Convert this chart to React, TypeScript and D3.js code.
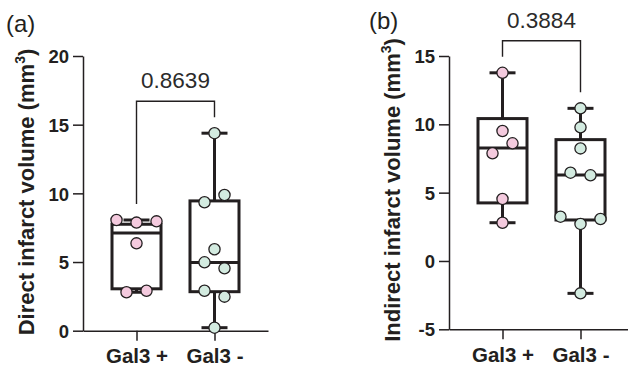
import React, { useEffect, useRef } from 'react';
import * as d3 from 'd3';

const categories = ['Gal3 +', 'Gal3 -'];

// (a) direct infarct volume, points in table order
const directGal3Pos = [8.06, 7.87, 7.96, 6.36, 2.8, 2.91];
const directGal3Neg = [14.38, 9.35, 9.88, 5.93, 4.98, 4.54, 2.91, 2.48, 0.22];
// box summaries: [min, q1, median, q3, max]
const directBoxes = [
    [2.8, 3.05, 7.12, 7.75, 8.06],
    [0.22, 2.84, 4.97, 9.45, 14.38],
];
const directTicks = [0, 5, 10, 15, 20];
const directP = '0.8639';

// (b) indirect infarct volume
const indirectGal3Pos = [13.77, 9.51, 7.88, 8.61, 4.54, 2.8];
const indirectGal3Neg = [11.17, 9.78, 8.24, 6.46, 6.27, 3.24, 2.71, 3.07, -2.37];
const indirectBoxes = [
    [2.8, 4.25, 8.27, 10.42, 13.77],
    [-2.37, 3.0, 6.3, 8.88, 11.17],
];
const indirectTicks = [-5, 0, 5, 10, 15];
const indirectP = '0.3884';

const FONT = 'Liberation Sans, Arial, Helvetica, sans-serif';
const INK = '#231f20';
const FILLS = ['#f4cade', '#d3ebe0'];

const drawPanel = (svg, cfg) => {
    const y = d3.scaleLinear().domain(cfg.domain).range([cfg.bottom, 56]);
    const x = d3.scalePoint().domain(categories).range([cfg.left, cfg.left + 185]).padding(0.686);

    const g = svg.append('g');

    // y axis (plain hyphen for negatives, like the original)
    const ya = g.append('g')
        .attr('transform', `translate(${cfg.left},0)`)
        .call(d3.axisLeft(y).tickValues(cfg.ticks).tickFormat(d => String(d))
            .tickSize(10).tickSizeOuter(0).tickPadding(4));
    ya.select('.domain').attr('stroke', INK).attr('stroke-width', 1.5);
    ya.selectAll('.tick line').attr('stroke', INK).attr('stroke-width', 1.5);
    ya.selectAll('.tick text')
        .attr('font-family', FONT).attr('font-size', 18.5).attr('font-weight', 'bold')
        .attr('fill', INK).attr('dy', '0.36em');

    // x axis
    const xa = g.append('g')
        .attr('transform', `translate(0,${cfg.bottom})`)
        .call(d3.axisBottom(x).tickSize(10).tickSizeOuter(0).tickPadding(8));
    xa.select('.domain').attr('stroke', INK).attr('stroke-width', 1.5);
    xa.selectAll('.tick line').attr('stroke', INK).attr('stroke-width', 1.5);
    xa.selectAll('.tick text')
        .attr('font-family', FONT).attr('font-size', 20.5).attr('font-weight', 'bold')
        .attr('fill', INK);

    // boxes and whiskers
    cfg.boxes.forEach((b, i) => {
        const cx = x(categories[i]);
        const [mn, q1, med, q3, mx] = b;
        const bg = g.append('g').attr('stroke', INK).attr('stroke-width', 3).attr('fill', 'none');
        bg.append('line').attr('x1', cx).attr('x2', cx).attr('y1', y(mx)).attr('y2', y(q3));
        bg.append('line').attr('x1', cx).attr('x2', cx).attr('y1', y(q1)).attr('y2', y(mn));
        bg.append('line').attr('x1', cx - 13).attr('x2', cx + 13).attr('y1', y(mx)).attr('y2', y(mx));
        bg.append('line').attr('x1', cx - 13).attr('x2', cx + 13).attr('y1', y(mn)).attr('y2', y(mn));
        bg.append('rect')
            .attr('x', cx - 24.5).attr('width', 49)
            .attr('y', y(q3)).attr('height', y(q1) - y(q3));
        bg.append('line').attr('x1', cx - 24.5).attr('x2', cx + 24.5).attr('y1', y(med)).attr('y2', y(med));
    });

    // points, grouped into rows when they would overlap
    cfg.points.forEach((vals, i) => {
        const cx = x(categories[i]);
        const order = vals.map((v, k) => k).sort((a, b) => vals[b] - vals[a]);
        const rows = [];
        order.forEach(k => {
            const last = rows[rows.length - 1];
            if (last && y(vals[k]) - y(vals[last[last.length - 1]]) < 11) last.push(k);
            else rows.push([k]);
        });
        rows.forEach(row => {
            row.sort((a, b) => a - b);
            row.forEach((k, j) => {
                g.append('circle')
                    .attr('cx', cx + (j - (row.length - 1) / 2) * 20)
                    .attr('cy', y(vals[k]))
                    .attr('r', 5.6)
                    .attr('fill', FILLS[i])
                    .attr('stroke', INK)
                    .attr('stroke-width', 1.3);
            });
        });
    });

    // significance bracket
    const legs = cfg.boxes.map(b => y(b[4]) - 16);
    const top = Math.min(...legs) - 16;
    const x1 = x(categories[0]);
    const x2 = x(categories[1]);
    g.append('path')
        .attr('d', `M${x1},${legs[0]}V${top}H${x2}V${legs[1]}`)
        .attr('fill', 'none').attr('stroke', INK).attr('stroke-width', 1.4);
    g.append('text')
        .attr('x', (x1 + x2) / 2).attr('y', top - 13)
        .attr('text-anchor', 'middle')
        .attr('font-family', FONT).attr('font-size', 22.5).attr('fill', '#2b2b2b')
        .text(cfg.p);

    // y label
    const lab = g.append('text')
        .attr('transform', `translate(${cfg.labelX},${cfg.labelY}) rotate(-90)`)
        .attr('text-anchor', 'middle')
        .attr('font-family', FONT).attr('font-size', 22).attr('font-weight', 'bold')
        .attr('fill', INK);
    lab.append('tspan').text(cfg.label + ' (mm');
    lab.append('tspan').attr('font-size', 14).attr('dy', -9).text('3');
    lab.append('tspan').attr('dy', 9).text(')');

    // panel letter
    g.append('text')
        .attr('x', cfg.letterX).attr('y', cfg.letterY)
        .attr('font-family', FONT).attr('font-size', 24).attr('fill', INK)
        .text(cfg.letter);
};

const App = () => {
    const ref = useRef(null);

    useEffect(() => {
        d3.select(ref.current).selectAll('*').remove();
        const svg = d3.select(ref.current);

        drawPanel(svg, {
            left: 83, bottom: 330.7, domain: [0, 20], ticks: directTicks,
            boxes: directBoxes, points: [directGal3Pos, directGal3Neg], p: directP,
            label: 'Direct infarct volume', labelX: 34, labelY: 192,
            letter: '(a)', letterX: 6, letterY: 31.5,
        });
        drawPanel(svg, {
            left: 449, bottom: 329.3, domain: [-5, 15], ticks: indirectTicks,
            boxes: indirectBoxes, points: [indirectGal3Pos, indirectGal3Neg], p: indirectP,
            label: 'Indirect infarct volume', labelX: 400, labelY: 190,
            letter: '(b)', letterX: 369, letterY: 29,
        });
    }, []);

    return (
        <svg ref={ref} width={628} height={369}
            style={{ position: 'absolute', left: 0, top: 0, background: '#fff' }} />
    );
};

export default App;
